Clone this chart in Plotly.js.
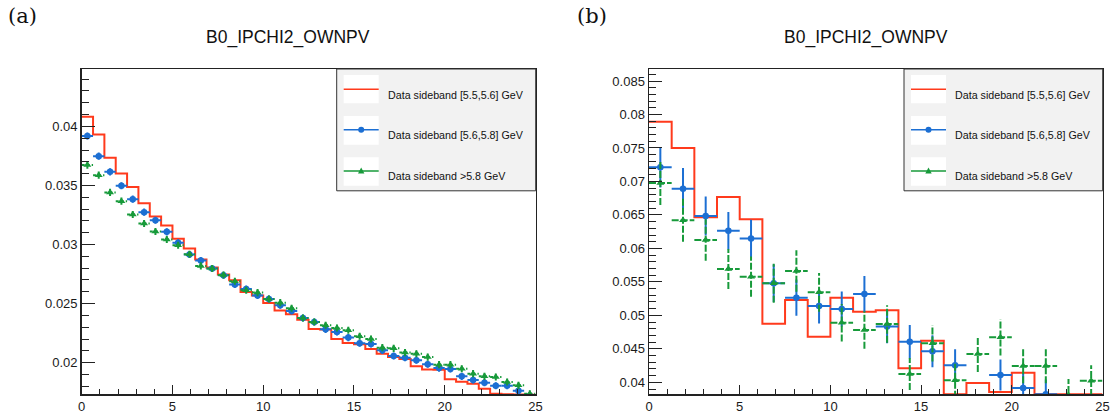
<!DOCTYPE html>
<html><head><meta charset="utf-8">
<script src="https://cdn.plot.ly/plotly-3.0.1.min.js"></script>
<style>html,body{margin:0;padding:0;background:#fff}#chart{width:1111px;height:417px}</style>
</head><body><div id="chart"></div>
<script>
// ---------------- data ----------------
const xRange = [0, 25];
const nBinsA = 40;
const nBinsB = 20;

const redA = [0.04081,0.03932,0.03734,0.03602,0.03486,0.03350,0.03237,0.03161,0.03049,0.02966,
              0.02873,0.02805,0.02746,0.02697,0.02598,0.02568,0.02505,0.02441,0.02409,0.02364,
              0.02285,0.02280,0.02200,0.02166,0.02155,0.02115,0.02076,0.02048,0.02030,0.01969,
              0.01943,0.01940,0.01859,0.01839,0.01822,0.01780,0.01737,0.01733,0.01730,0.01728];
const blueA = [0.03918,0.03748,0.03615,0.03497,0.03384,0.03274,0.03206,0.03107,0.03014,0.02915,
               0.02864,0.02797,0.02740,0.02661,0.02624,0.02568,0.02539,0.02486,0.02437,0.02378,
               0.02344,0.02282,0.02260,0.02212,0.02164,0.02158,0.02104,0.02056,0.02042,0.02020,
               0.01986,0.01954,0.01946,0.01884,0.01853,0.01830,0.01805,0.01805,0.01763,0.01720];
const greenA = [0.03672,0.03587,0.03441,0.03367,0.03254,0.03178,0.03110,0.03042,0.02994,0.02918,
                0.02819,0.02797,0.02742,0.02689,0.02613,0.02593,0.02539,0.02508,0.02460,0.02378,
                0.02344,0.02316,0.02293,0.02274,0.02223,0.02200,0.02127,0.02121,0.02085,0.02076,
                0.02047,0.01983,0.01983,0.01949,0.01907,0.01884,0.01878,0.01836,0.01808,0.01736];
const errBlueA = [0.0003,0.0003,0.0003,0.0003,0.0003,0.0003,0.0003,0.0003,0.0003,0.0003,
                  0.0003,0.0003,0.0003,0.0003,0.0003,0.0003,0.0003,0.0003,0.0003,0.0003,
                  0.0003,0.0003,0.0003,0.0003,0.0003,0.0003,0.0003,0.0003,0.0003,0.0003,
                  0.0003,0.0003,0.0003,0.0003,0.0003,0.0003,0.0003,0.0003,0.0003,0.0003];
const errGreenA = [0.0003,0.0003,0.0003,0.0003,0.0003,0.0003,0.0003,0.0003,0.0003,0.0003,
                   0.0003,0.0003,0.0003,0.0003,0.0003,0.0003,0.0003,0.0003,0.0003,0.0003,
                   0.0003,0.0003,0.0003,0.0003,0.0003,0.0003,0.0003,0.0003,0.0003,0.0003,
                   0.0003,0.0003,0.0003,0.0003,0.0003,0.0003,0.0003,0.0003,0.0003,0.0003];

const redB = [0.07892,0.07500,0.06464,0.06768,0.06435,0.04875,0.05229,0.04681,0.05264,0.05055,
              0.05075,0.04210,0.04622,0.03820,0.03990,0.03856,0.04144,0.03820,0.03820,0.03820];
const blueB = [0.07211,0.06892,0.06484,0.06262,0.06148,0.05479,0.05264,0.05140,0.05095,0.05319,
               0.04834,0.04607,0.04463,0.04254,0,0.04109,0.03915,0.03823,0,0];
const errBlueB = [0.0030,0.0031,0.0029,0.0028,0.0028,0.0028,0.0027,0.0026,0.0026,0.0027,
                  0.0025,0.0025,0.0024,0.0024,0,0.0023,0.0022,0.0022,0,0];
const greenB = [0.06977,0.06420,0.06125,0.05692,0.05577,0.05479,0.05662,0.05344,0.04890,0.04781,
                0.04871,0.04124,0.04582,0.04030,0.04423,0.04672,0.04244,0.04244,0.03810,0.04024];
const errGreenB = [0.0033,0.0032,0.0031,0.0030,0.0030,0.0029,0.0031,0.0029,0.0028,0.0028,
                   0.0028,0.0024,0.0027,0.0026,0.0027,0.0027,0.0026,0.0026,0.0024,0.0023];

const legendLabels = ["Data sideband [5.5,5.6] GeV", "Data sideband [5.6,5.8] GeV", "Data sideband >5.8 GeV"];
const panelTitles = ["B0_IPCHI2_OWNPV", "B0_IPCHI2_OWNPV"];
const panelTags = ["(a)", "(b)"];

// ---------------- helpers ----------------
const W = 1111, H = 417;
const px = x => x / W;
const py = y => 1 - y / H;
const RED = '#ff3a1c', BLUE = '#1c6fd3', GREEN = '#179a3a';

function edges(n) { const w = (xRange[1]-xRange[0])/n, e = []; for (let i=0;i<=n;i++) e.push(xRange[0]+i*w); return e; }
function centers(n) { const w = (xRange[1]-xRange[0])/n, c = []; for (let i=0;i<n;i++) c.push(xRange[0]+(i+0.5)*w); return c; }
function histY(v) { return v.concat([v[v.length-1]]); }
function errSegs(cx, v, hw, ey, withVert) {
  const X = [], Y = [];
  for (let i=0;i<cx.length;i++) {
    if (!v[i]) continue;
    X.push(cx[i]-hw, cx[i]+hw, null); Y.push(v[i], v[i], null);
    if (withVert && ey[i] > 0) { X.push(cx[i], cx[i], null); Y.push(v[i]-ey[i], v[i]+ey[i], null); }
  }
  return {X, Y};
}

function panelTraces(n, red, blue, eb, green, eg, xa, ya, dashPat, vertDashed) {
  const cx = centers(n), hw = (xRange[1]-xRange[0])/n/2;
  const gs = errSegs(cx, green, hw, eg, vertDashed);
  const traces = [
    {x: edges(n), y: histY(red), xaxis: xa, yaxis: ya, mode: 'lines', line: {shape: 'hv', color: RED, width: 2}, showlegend: false, hoverinfo: 'skip'},
    {x: cx, y: blue, xaxis: xa, yaxis: ya, mode: 'markers', marker: {symbol: 'circle', size: 6.5, color: BLUE},
     error_x: {type: 'constant', value: hw, width: 0, thickness: 2, color: BLUE},
     error_y: {type: 'data', array: eb, width: 0, thickness: 2, color: BLUE}, showlegend: false},
    {x: gs.X, y: gs.Y, xaxis: xa, yaxis: ya, mode: 'lines', line: {color: GREEN, width: 2, dash: dashPat}, showlegend: false, hoverinfo: 'skip'},
    {x: cx, y: green, xaxis: xa, yaxis: ya, mode: 'markers', marker: {symbol: 'triangle-up', size: 7, color: GREEN}, showlegend: false}
  ];
  if (!vertDashed) {
    traces[3].error_y = {type: 'data', array: eg, width: 0, thickness: 2, color: GREEN};
  }
  return traces;
}

const data = [].concat(
  panelTraces(nBinsA, redA, blueA, errBlueA, greenA, errGreenA, 'x', 'y', '3px,2px', false),
  panelTraces(nBinsB, redB, blueB, errBlueB, greenB, errGreenB, 'x2', 'y2', '7px,2px', true)
);

const tickFont = {family: 'Liberation Sans, Arial, sans-serif', size: 13, color: '#1a1a1a'};
function xAxis(d0, d1) {
  return {domain: [px(d0), px(d1)], range: xRange, tick0: 0, dtick: 5, ticks: 'inside', ticklen: 9, tickwidth: 1, tickcolor: '#222',
          minor: {ticks: 'inside', ticklen: 5, dtick: 1, tickcolor: '#222', tickwidth: 1},
          showline: true, mirror: true, linecolor: '#222', linewidth: 1.5, showgrid: false, zeroline: false, tickfont: tickFont, fixedrange: true};
}
function yAxis(r) {
  return {domain: [py(394.3), py(69)], range: r, tick0: 0, dtick: 0.005, ticks: 'inside', ticklen: 13, tickwidth: 1, tickcolor: '#222',
          minor: {ticks: 'inside', ticklen: 7, dtick: 0.001, tickcolor: '#222', tickwidth: 1},
          showline: true, mirror: true, linecolor: '#222', linewidth: 1.5, showgrid: false, zeroline: false, tickfont: tickFont, fixedrange: true};
}

const shapes = [], annotations = [];
function addLegend(x0, x1) {
  const boxTop = 69, boxBot = 190.8;
  shapes.push({type: 'rect', xref: 'paper', yref: 'paper', x0: px(x0), x1: px(x1), y0: py(boxBot), y1: py(boxTop),
               fillcolor: '#f2f2f2', line: {color: '#333', width: 1}, layer: 'above'});
  const rows = [[75, 103.3, 89.3], [116, 144.7, 129.7], [157.3, 185.7, 171]];
  const cols = [RED, BLUE, GREEN];
  const sx0 = x0 + 7, sx1 = x0 + 42, sxm = (sx0 + sx1) / 2;
  rows.forEach((r, i) => {
    shapes.push({type: 'rect', xref: 'paper', yref: 'paper', x0: px(sx0), x1: px(sx1), y0: py(r[1]), y1: py(r[0]),
                 fillcolor: '#ffffff', line: {width: 0}, layer: 'above'});
    shapes.push({type: 'line', xref: 'paper', yref: 'paper', x0: px(sx0), x1: px(sx1), y0: py(r[2]), y1: py(r[2]),
                 line: {color: cols[i], width: 1.5}, layer: 'above'});
    annotations.push({xref: 'paper', yref: 'paper', x: px(x0 + 49), y: py(r[2] + 5.3), xanchor: 'left', yanchor: 'middle',
                      text: legendLabels[i], showarrow: false, font: {family: 'Liberation Sans, Arial, sans-serif', size: 10.7, color: '#111'}});
  });
  // legend glyph markers
  const cy = rows[1][2], r = 3;
  shapes.push({type: 'circle', xref: 'paper', yref: 'paper', x0: px(sxm - r), x1: px(sxm + r), y0: py(cy + r), y1: py(cy - r),
               fillcolor: BLUE, line: {width: 0}, layer: 'above'});
  const ty = rows[2][2];
  const tri = 'M ' + px(sxm - 3.2) + ' ' + py(ty + 2.4) + ' L ' + px(sxm + 3.2) + ' ' + py(ty + 2.4) + ' L ' + px(sxm) + ' ' + py(ty - 3.4) + ' Z';
  shapes.push({type: 'path', xref: 'paper', yref: 'paper', path: tri, fillcolor: GREEN, line: {width: 0}, layer: 'above'});
}
addLegend(336.7, 535.7);
addLegend(904, 1102.7);

annotations.push({xref: 'paper', yref: 'paper', x: px(287.5), y: py(38), xanchor: 'center', yanchor: 'middle', text: panelTitles[0],
                  showarrow: false, font: {family: 'Liberation Sans, Arial, sans-serif', size: 17.5, color: '#111'}});
annotations.push({xref: 'paper', yref: 'paper', x: px(866), y: py(38), xanchor: 'center', yanchor: 'middle', text: panelTitles[1],
                  showarrow: false, font: {family: 'Liberation Sans, Arial, sans-serif', size: 17.5, color: '#111'}});
annotations.push({xref: 'paper', yref: 'paper', x: px(6), y: py(16), xanchor: 'left', yanchor: 'middle', text: panelTags[0],
                  showarrow: false, font: {family: 'DejaVu Serif, serif', size: 21, color: '#111'}});
annotations.push({xref: 'paper', yref: 'paper', x: px(575), y: py(16), xanchor: 'left', yanchor: 'middle', text: panelTags[1],
                  showarrow: false, font: {family: 'DejaVu Serif, serif', size: 21, color: '#111'}});

const layout = {
  width: W, height: H, margin: {l: 0, r: 0, t: 0, b: 0},
  paper_bgcolor: '#ffffff', plot_bgcolor: '#ffffff', showlegend: false,
  xaxis: xAxis(81.7, 535.5), yaxis: yAxis([0.017322, 0.044856]),
  xaxis2: Object.assign(xAxis(649, 1102.5), {anchor: 'y2'}), yaxis2: Object.assign(yAxis([0.038208, 0.086792]), {anchor: 'x2'}),
  shapes: shapes, annotations: annotations
};
layout.xaxis.anchor = 'y';
layout.yaxis.anchor = 'x';

Plotly.newPlot('chart', data, layout, {staticPlot: true, displayModeBar: false});
</script>
</body></html>
